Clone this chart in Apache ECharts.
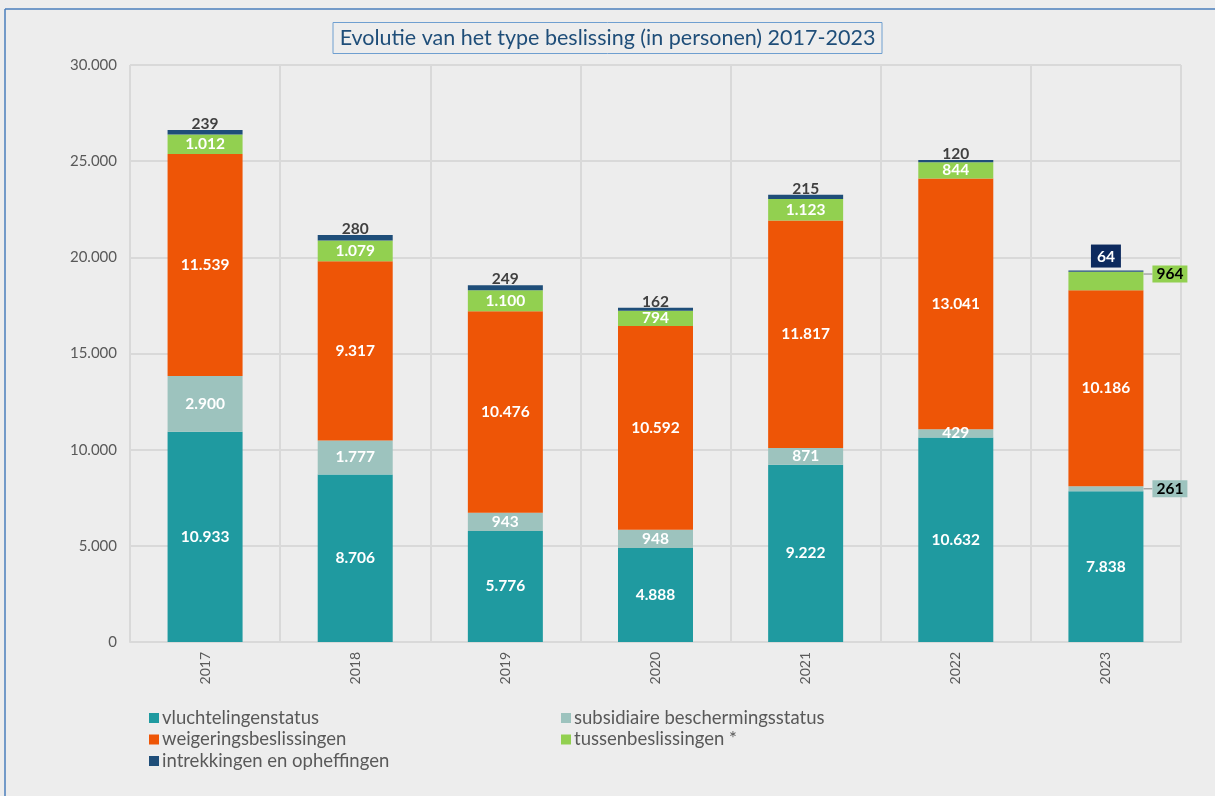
<!DOCTYPE html>
<html><head><meta charset="utf-8">
<script src="https://cdn.jsdelivr.net/npm/echarts@6/dist/echarts.min.js"></script>
<style>html,body{margin:0;padding:0;background:#ededed;}#c{width:1215px;height:796px;}</style>
</head><body><div id="c"></div>
<script>
const years = ['2017','2018','2019','2020','2021','2022','2023'];
const vluchtelingenstatus = [10933, 8706, 5776, 4888, 9222, 10632, 7838];
const subsidiaire = [2900, 1777, 943, 948, 871, 429, 261];
const weigeringen = [11539, 9317, 10476, 10592, 11817, 13041, 10186];
const tussenbeslissingen = [1012, 1079, 1100, 794, 1123, 844, 964];
const intrekkingen = [239, 280, 249, 162, 215, 120, 64];
const yTicks = [0, 5000, 10000, 15000, 20000, 25000, 30000];

const FONT = 'Lato, "Open Sans", sans-serif';
const fmt = v => String(v).replace(/\B(?=(\d{3})+(?!\d))/g, '.');
const inLabel = {show: true, position: 'inside', color: '#ffffff', fontWeight: 'bold', fontSize: 15.5, fontFamily: FONT, formatter: p => fmt(p.value)};

function withSideLabel(arr, bg) {
  return arr.map((v, i) => i === arr.length - 1 ? {
    value: v,
    label: {position: 'right', distance: 0, color: '#000', backgroundColor: bg, padding: [1, 4, 0, 4]},
  } : v);
}

const legendText = {color: '#595959', fontSize: 18.5, fontFamily: FONT, lineHeight: 20, padding: [0, 0, 0, -2]};

const chart = echarts.init(document.getElementById('c'));
chart.setOption({
  backgroundColor: '#ededed',
  animation: false,
  title: {
    text: 'Evolutie van het type beslissing (in personen) 2017-2023',
    left: 'center', top: 22,
    borderColor: '#6f9fd0', borderWidth: 1, padding: [5, 7, 5, 7],
    textStyle: {color: '#1f4e79', fontSize: 21.5, fontWeight: 'normal', fontFamily: FONT}
  },
  graphic: [
    {type: 'line', shape: {x1: 5, y1: 9, x2: 1215, y2: 9}, style: {stroke: '#4a7ebb', lineWidth: 1.5}, silent: true},
    {type: 'line', shape: {x1: 5, y1: 9, x2: 5, y2: 796}, style: {stroke: '#4a7ebb', lineWidth: 1.5}, silent: true}
  ],
  grid: {left: 130, right: 34, top: 65, bottom: 154},
  legend: [
    {data: ['vluchtelingenstatus', 'weigeringsbeslissingen', 'intrekkingen en opheffingen'], orient: 'vertical', left: 144, top: 703,
     itemWidth: 10, itemHeight: 10, itemGap: 1.5, icon: 'rect', textStyle: legendText},
    {data: ['subsidiaire beschermingsstatus', 'tussenbeslissingen *'], orient: 'vertical', left: 556, top: 703,
     itemWidth: 10, itemHeight: 10, itemGap: 1.5, icon: 'rect', textStyle: legendText}
  ],
  xAxis: {
    type: 'category', data: years,
    axisLine: {lineStyle: {color: '#d9d9d9', width: 2}},
    axisTick: {show: false},
    axisLabel: {rotate: 90, color: '#595959', fontSize: 14, fontFamily: FONT, margin: 10},
    splitLine: {show: true, lineStyle: {color: '#d9d9d9', width: 2}}
  },
  yAxis: {
    type: 'value', min: yTicks[0], max: yTicks[yTicks.length - 1], interval: yTicks[1] - yTicks[0],
    axisLine: {show: false}, axisTick: {show: false},
    axisLabel: {color: '#595959', fontSize: 15, fontFamily: FONT, margin: 13, formatter: v => fmt(v)},
    splitLine: {lineStyle: {color: '#d9d9d9', width: 2}}
  },
  series: [
    {name: 'vluchtelingenstatus', type: 'bar', stack: 't', barWidth: 75, data: vluchtelingenstatus,
     itemStyle: {color: '#1f9aa0'}, label: inLabel},
    {name: 'subsidiaire beschermingsstatus', type: 'bar', stack: 't', data: withSideLabel(subsidiaire, '#9dc3be'),
     itemStyle: {color: '#9dc3be'}, label: inLabel,
     labelLine: {show: true, lineStyle: {color: '#a6a6a6', width: 1.5}},
     labelLayout: p => p.dataIndex === 6 ? {dx: 9} : {}},
    {name: 'weigeringsbeslissingen', type: 'bar', stack: 't', data: weigeringen,
     itemStyle: {color: '#ee5506'}, label: inLabel},
    {name: 'tussenbeslissingen *', type: 'bar', stack: 't', data: withSideLabel(tussenbeslissingen, '#92d050'),
     itemStyle: {color: '#92d050'}, label: inLabel,
     labelLine: {show: true, lineStyle: {color: '#a6a6a6', width: 1.5}},
     labelLayout: p => p.dataIndex === 6 ? {dx: 9, dy: -7} : {}},
    {name: 'intrekkingen en opheffingen', type: 'bar', stack: 't',
     data: intrekkingen.map((v, i) => i === intrekkingen.length - 1 ? {value: v, label: {color: '#fff', backgroundColor: '#0d2a5e', padding: [4, 6, 3, 6], distance: 3}} : v),
     itemStyle: {color: '#1f4e79'},
     label: {show: true, position: 'top', distance: -2, color: '#404040', fontWeight: 'bold', fontSize: 15.5, fontFamily: FONT, formatter: p => fmt(p.value)}}
  ]
});
</script></body></html>
